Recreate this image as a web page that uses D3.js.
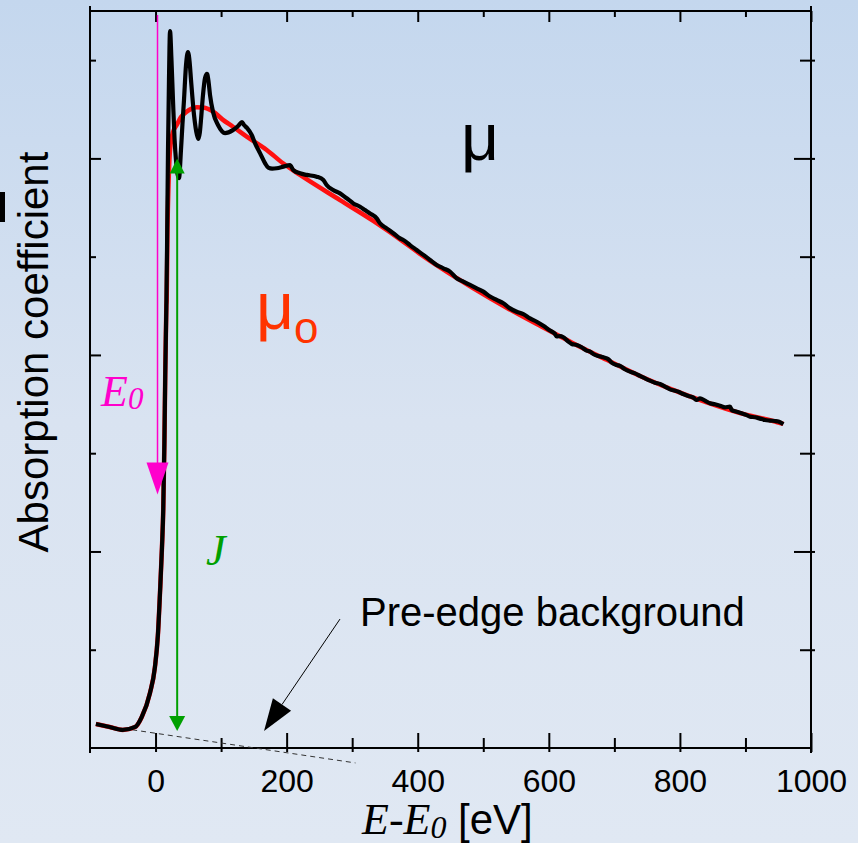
<!DOCTYPE html>
<html>
<head>
    <script src="https://cdn.jsdelivr.net/npm/d3@7"></script>
    <style>
        body { margin: 0; }
    </style>
</head>

<body>
<div id="chart"></div>

<script>

    var width = 858;
    var height = 843;
    var padding = { top: 11, right: 47, bottom: 95, left: 90 };
    var plotW = width - padding.left - padding.right;
    var plotH = height - padding.top - padding.bottom;

    // ticks
    var xMajor = [0, 200, 400, 600, 800, 1000];
    var xMinor = [100, 300, 500, 700, 900];
    var yMajor = [1, 2, 3];
    var yMinor = [0.5, 1.5, 2.5, 3.5];

    // pre-edge + edge, shared by mu and mu0  [E - E0, absorption]
    var edgeRise = [[-91, 0.122], [-70, 0.107], [-50, 0.092], [-31, 0.107], [-21, 0.158],
        [-8.5, 0.28], [-1, 0.41], [3.5, 0.57], [6.8, 0.79], [9.8, 1.02], [11.8, 1.22],
        [13.5, 1.55], [14.8, 1.90], [16.5, 2.25]];

    // measured mu above the edge
    var muFine = [[17.5, 2.53], [19.0, 3.04], [20.5, 3.40], [22.1, 3.648], [24.3, 3.50], [26.6, 3.297],
        [29, 3.10], [31.2, 2.99], [33.5, 2.92], [35.8, 2.90], [38.8, 3.043], [41, 3.17], [43.4, 3.297],
        [46.5, 3.475], [49.5, 3.541], [52, 3.49], [54.1, 3.399], [58.7, 3.221], [63.2, 3.119],
        [65.5, 3.099], [67.5, 3.13], [69.3, 3.195], [72.4, 3.323], [75.5, 3.409], [78.5, 3.430],
        [80.5, 3.40], [83.1, 3.323], [87.7, 3.236], [95.3, 3.170], [106, 3.129], [118, 3.144],
        [126, 3.165], [131.9, 3.185], [135, 3.17], [139.5, 3.155], [146.7, 3.119], [151.7, 3.078],
        [159.4, 3.027], [167, 2.976], [172, 2.953], [178, 2.948], [184.8, 2.950], [195, 2.958],
        [205, 2.966], [210, 2.941], [220.4, 2.924], [230.6, 2.916], [245.8, 2.907], [256, 2.890],
        [261, 2.865], [271, 2.839], [281.4, 2.822], [291.6, 2.797], [301.8, 2.771], [312, 2.754],
        [319.6, 2.737], [327.2, 2.720], [337.4, 2.695], [342.4, 2.670], [352.6, 2.644], [362.8, 2.619],
        [373, 2.593], [378, 2.585], [388.2, 2.559], [398.4, 2.534], [408.6, 2.509], [418.7, 2.483],
        [428.9, 2.458], [439.1, 2.441], [449.2, 2.424], [459.4, 2.390], [469.6, 2.373], [479.8, 2.356],
        [490, 2.339], [500.1, 2.322], [510.3, 2.297], [520.4, 2.280], [530.6, 2.263], [540.8, 2.237],
        [551, 2.220], [561.1, 2.208], [571.3, 2.186], [581.5, 2.169], [591.6, 2.148], [601.8, 2.124],
        [609.4, 2.107], [612, 2.094], [617.1, 2.096], [622.2, 2.090], [629.8, 2.068], [634.9, 2.056],
        [642.5, 2.051], [650.1, 2.039], [657.7, 2.022], [662.8, 2.017], [667.9, 2.005], [675.5, 1.995],
        [683.2, 1.988], [690.8, 1.978], [695.9, 1.961], [703.5, 1.949], [708.6, 1.944], [716.2, 1.927],
        [723.9, 1.915], [731.5, 1.906], [739.1, 1.893], [746.7, 1.881], [754.4, 1.869], [762, 1.859],
        [769.6, 1.852], [777.3, 1.839], [784.9, 1.825], [792.5, 1.818], [797.6, 1.813], [805.2, 1.801],
        [812.9, 1.791], [820.5, 1.783], [825.6, 1.771], [830.7, 1.779], [838.3, 1.767], [845.9, 1.754],
        [853.5, 1.749], [861.2, 1.742], [868.8, 1.733], [876.4, 1.737], [879, 1.720], [886.6, 1.711],
        [894.2, 1.703], [901.9, 1.694], [907, 1.686], [914.6, 1.683], [922.2, 1.676], [929.8, 1.669],
        [937.5, 1.666], [945.1, 1.664], [950.2, 1.661], [957.8, 1.647]];

    // smooth atomic background mu0 above the edge
    var mu0Smooth = [[17.0, 2.28], [18.2, 2.636], [19.8, 2.865], [22.1, 3.043], [26.6, 3.134],
        [32.3, 3.17], [38.8, 3.21], [47.5, 3.238], [55.2, 3.253], [62.8, 3.26], [70.4, 3.259],
        [78, 3.255], [88.1, 3.238], [102.9, 3.196], [118.2, 3.161], [139.1, 3.111], [169.6, 3.043],
        [194.5, 2.975], [220.4, 2.916], [281.4, 2.788], [332.2, 2.682], [383.2, 2.564], [403.5, 2.514],
        [434, 2.445], [484.3, 2.340], [535.7, 2.24], [586.6, 2.148], [636.9, 2.06], [688.3, 1.975],
        [739.1, 1.893], [789.5, 1.822], [840.9, 1.758], [891.7, 1.704], [942.1, 1.664], [957.8, 1.649]];

    // pre-edge background line (dashed)
    var preEdgeLine = [[-90, 0.1196], [305, -0.076]];

    // annotation positions (data units)
    var e0Arrow = { x: 3, y1: 3.73, y2: 1.29 };
    var jArrow = { x: 33, y1: 0.087, y2: 3.0 };
    var pointer = { from: [281.4, 0.656], to: [165.5, 0.0865] };

    var x = d3.scaleLinear()
        .domain([-100, 1000])
        .range([0, plotW]);

    var y = d3.scaleLinear()
        .domain([0, 3.75])
        .range([plotH, 0]);

    var svg = d3.select('#chart').append('svg')
        .attr('width', width)
        .attr('height', height);

    var grad = svg.append('defs').append('linearGradient')
        .attr('id', 'bg').attr('x1', 0).attr('y1', 0).attr('x2', 0).attr('y2', 1);
    grad.append('stop').attr('offset', '0%').attr('stop-color', '#c4d7ee');
    grad.append('stop').attr('offset', '50%').attr('stop-color', '#d9e3f1');
    grad.append('stop').attr('offset', '100%').attr('stop-color', '#e0e8f3');

    svg.append('rect').attr('width', width).attr('height', height).attr('fill', 'url(#bg)');

    var g = svg.append('g')
        .attr('transform', 'translate(' + padding.left + ', ' + padding.top + ')');

    function styleAxis(sel) {
        sel.select('.domain').remove();
        sel.selectAll('.tick line').attr('stroke', '#000').attr('stroke-width', 2);
    }

    // bottom
    g.append('g')
        .attr('transform', 'translate(0,' + plotH + ')')
        .call(d3.axisBottom(x).tickValues(xMajor).tickSize(-15).tickFormat(d3.format('d')))
        .call(styleAxis)
        .call(function(a) {
            a.selectAll('.tick line').attr('y1', 4);
            a.selectAll('text')
                .attr('y', 44).attr('dy', null)
                .attr('fill', '#000')
                .style('font-family', 'Liberation Sans, Arial, sans-serif')
                .style('font-size', '32px');
        });
    g.append('g')
        .attr('transform', 'translate(0,' + plotH + ')')
        .call(d3.axisBottom(x).tickValues(xMinor).tickSize(-10).tickFormat(''))
        .call(styleAxis)
        .call(function(a) { a.selectAll('.tick line').attr('y1', 4); });

    // top
    g.append('g')
        .call(d3.axisTop(x).tickValues(xMajor).tickSize(-11).tickFormat(''))
        .call(styleAxis);
    g.append('g')
        .call(d3.axisTop(x).tickValues(xMinor).tickSize(-6).tickFormat(''))
        .call(styleAxis);

    // left
    g.append('g')
        .call(d3.axisLeft(y).tickValues(yMajor).tickSize(-11).tickFormat(''))
        .call(styleAxis);
    g.append('g')
        .call(d3.axisLeft(y).tickValues(yMinor).tickSize(-6).tickFormat(''))
        .call(styleAxis);

    // right
    g.append('g')
        .attr('transform', 'translate(' + plotW + ',0)')
        .call(d3.axisRight(y).tickValues(yMajor).tickSize(-17).tickFormat(''))
        .call(styleAxis)
        .call(function(a) { a.selectAll('.tick line').attr('x1', 4); });
    g.append('g')
        .attr('transform', 'translate(' + plotW + ',0)')
        .call(d3.axisRight(y).tickValues(yMinor).tickSize(-11).tickFormat(''))
        .call(styleAxis)
        .call(function(a) { a.selectAll('.tick line').attr('x1', 4); });

    // frame
    var frame = g.append('g').attr('stroke', '#000').attr('stroke-width', 2);
    frame.append('line').attr('x1', 0).attr('x2', plotW).attr('y1', 0).attr('y2', 0);
    frame.append('line').attr('x1', 0).attr('x2', plotW).attr('y1', plotH).attr('y2', plotH);
    frame.append('line').attr('x1', 0).attr('x2', 0).attr('y1', -5).attr('y2', plotH + 5);
    frame.append('line').attr('x1', plotW).attr('x2', plotW).attr('y1', -5).attr('y2', plotH + 5);

    var line = d3.line()
        .x(function(d) { return x(d[0]); })
        .y(function(d) { return y(d[1]); })
        .curve(d3.curveMonotoneX);

    // pre-edge dashed
    g.append('path')
        .datum(preEdgeLine)
        .attr('d', d3.line().x(function(d) { return x(d[0]); }).y(function(d) { return y(d[1]); }))
        .attr('fill', 'none')
        .attr('stroke', '#333')
        .attr('stroke-width', 1)
        .attr('stroke-dasharray', '5,4');

    // mu0
    g.append('path')
        .datum(edgeRise.concat(mu0Smooth))
        .attr('d', line)
        .attr('fill', 'none')
        .attr('stroke', '#ff1010')
        .attr('stroke-width', 4.5)
        .attr('stroke-linejoin', 'round');

    // mu
    g.append('path')
        .datum(edgeRise.concat(muFine))
        .attr('d', line)
        .attr('fill', 'none')
        .attr('stroke', '#000')
        .attr('stroke-width', 4.2)
        .attr('stroke-linejoin', 'round');

    // E0 arrow
    var ex = x(e0Arrow.x);
    g.append('line')
        .attr('x1', ex).attr('x2', ex)
        .attr('y1', y(e0Arrow.y1)).attr('y2', y(e0Arrow.y2) - 20)
        .attr('stroke', '#ff00cc').attr('stroke-width', 1.5);
    g.append('path')
        .attr('d', 'M' + (ex - 11) + ',' + (y(e0Arrow.y2) - 32) + 'L' + (ex + 11) + ',' + (y(e0Arrow.y2) - 32) +
            'L' + ex + ',' + y(e0Arrow.y2) + 'Z')
        .attr('fill', '#ff00cc');

    // J arrow (double headed)
    var jx = x(jArrow.x), jb = y(jArrow.y1), jt = y(jArrow.y2);
    g.append('line')
        .attr('x1', jx).attr('x2', jx)
        .attr('y1', jt + 10).attr('y2', jb - 10)
        .attr('stroke', '#00a000').attr('stroke-width', 2);
    g.append('path')
        .attr('d', 'M' + jx + ',' + jt + 'L' + (jx + 7.5) + ',' + (jt + 15) + 'L' + (jx - 7.5) + ',' + (jt + 15) + 'Z')
        .attr('fill', '#00a000');
    g.append('path')
        .attr('d', 'M' + jx + ',' + jb + 'L' + (jx + 8) + ',' + (jb - 15) + 'L' + (jx - 8) + ',' + (jb - 15) + 'Z')
        .attr('fill', '#00a000');

    // pre-edge pointer
    var p0 = [x(pointer.from[0]), y(pointer.from[1])];
    var p1 = [x(pointer.to[0]), y(pointer.to[1])];
    var ang = Math.atan2(p1[1] - p0[1], p1[0] - p0[0]);
    var headL = 32, headW = 11;
    var bx = p1[0] - headL * Math.cos(ang), by = p1[1] - headL * Math.sin(ang);
    g.append('line')
        .attr('x1', p0[0]).attr('y1', p0[1]).attr('x2', bx).attr('y2', by)
        .attr('stroke', '#000').attr('stroke-width', 1);
    g.append('path')
        .attr('d', 'M' + p1[0] + ',' + p1[1] +
            'L' + (bx + headW * Math.sin(ang)) + ',' + (by - headW * Math.cos(ang)) +
            'L' + (bx - headW * Math.sin(ang)) + ',' + (by + headW * Math.cos(ang)) + 'Z')
        .attr('fill', '#000');

    // labels
    var sans = 'Liberation Sans, Arial, sans-serif';
    var serif = 'Liberation Serif, Times New Roman, serif';

    svg.append('text')
        .attr('transform', 'translate(48,352) rotate(-90)')
        .attr('text-anchor', 'middle')
        .style('font-family', sans).style('font-size', '42px')
        .attr('fill', '#000')
        .text('Absorption coefficient');
    svg.append('rect').attr('x', 0).attr('y', 192).attr('width', 5).attr('height', 30).attr('fill', '#000');

    var xt = svg.append('text')
        .attr('x', 362).attr('y', 834)
        .attr('fill', '#000');
    xt.append('tspan').style('font-family', serif).style('font-style', 'italic').style('font-size', '44px').text('E-E');
    xt.append('tspan').style('font-family', serif).style('font-style', 'italic').style('font-size', '32px')
        .attr('dy', 4).text('0');
    xt.append('tspan').style('font-family', sans).style('font-size', '42px').attr('dy', -4).text(' [eV]');

    svg.append('text')
        .attr('x', 461).attr('y', 160)
        .style('font-family', sans).style('font-size', '66px')
        .attr('fill', '#000')
        .text('μ');

    var m0 = svg.append('text')
        .attr('x', 256).attr('y', 329)
        .attr('fill', '#ff3300');
    m0.append('tspan').style('font-family', sans).style('font-size', '66px').text('μ');
    m0.append('tspan').style('font-family', sans).style('font-size', '44px').attr('dy', 14).text('o');

    var e0 = svg.append('text')
        .attr('x', 101).attr('y', 406)
        .attr('fill', '#ff00cc');
    e0.append('tspan').style('font-family', serif).style('font-style', 'italic').style('font-size', '44px').text('E');
    e0.append('tspan').style('font-family', serif).style('font-style', 'italic').style('font-size', '31px')
        .attr('dy', 3).text('0');

    svg.append('text')
        .attr('x', 206).attr('y', 565)
        .attr('fill', '#00a000')
        .style('font-family', serif).style('font-style', 'italic').style('font-size', '44px')
        .text('J');

    svg.append('text')
        .attr('x', 360).attr('y', 626)
        .attr('fill', '#000')
        .style('font-family', sans).style('font-size', '40px')
        .text('Pre-edge background');

</script>
</body>
</html>
